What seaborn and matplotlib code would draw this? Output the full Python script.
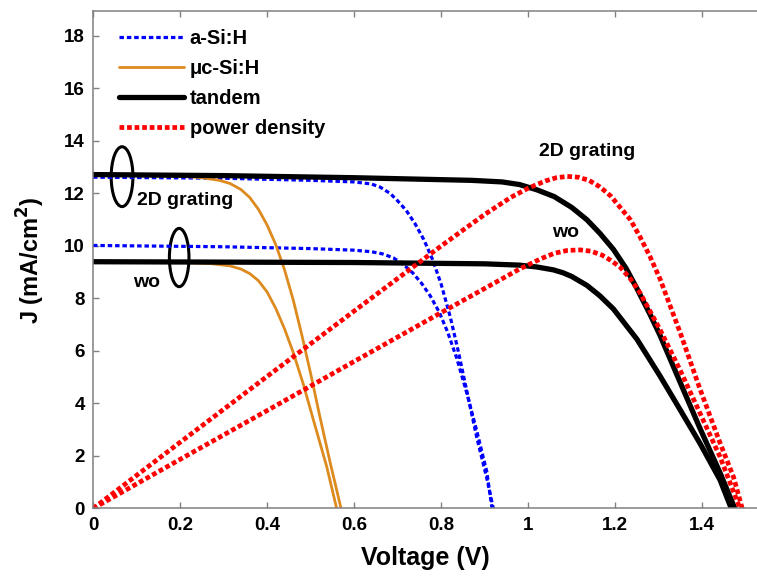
import matplotlib
matplotlib.use("Agg")

import matplotlib.pyplot as plt
from matplotlib.patches import Ellipse
import seaborn as sns


# ==================================================
# Data
# ==================================================

# a-Si:H top cell
asi_grating_v = [0, 0.3, 0.5, 0.6, 0.64, 0.66, 0.683, 0.70, 0.72, 0.74, 0.76,
                 0.78, 0.80, 0.821, 0.84, 0.86, 0.882, 0.905, 0.92]
asi_grating_j = [12.62, 12.58, 12.5, 12.44, 12.36, 12.24, 12.0, 11.72, 11.35, 10.85, 10.25,
                 9.5, 8.55, 7.3, 5.95, 4.4, 2.7, 1.15, 0.0]

asi_wo_v = [0, 0.3, 0.5, 0.6, 0.64, 0.665, 0.69, 0.713, 0.735, 0.755, 0.775,
            0.795, 0.815, 0.836, 0.859, 0.882, 0.905, 0.917]
asi_wo_j = [10.02, 9.97, 9.9, 9.84, 9.78, 9.7, 9.55, 9.3, 8.97, 8.58, 8.1,
            7.5, 6.72, 5.72, 4.4, 2.95, 1.4, 0.0]

# uc-Si:H bottom cell
ucsi_grating_v = [0, 0.2, 0.25, 0.29, 0.315, 0.34, 0.36, 0.38, 0.40, 0.42,
                  0.44, 0.46, 0.48, 0.50, 0.52, 0.545, 0.57]
ucsi_grating_j = [12.7, 12.66, 12.6, 12.5, 12.38, 12.15, 11.85, 11.4, 10.8, 10.05,
                  9.1, 7.95, 6.6, 5.15, 3.6, 1.75, 0.0]

ucsi_wo_v = [0, 0.2, 0.27, 0.315, 0.34, 0.36, 0.38, 0.40, 0.42, 0.44,
             0.46, 0.483, 0.506, 0.537, 0.56]
ucsi_wo_j = [9.4, 9.38, 9.33, 9.24, 9.12, 8.95, 8.68, 8.25, 7.62, 6.85,
             5.95, 4.75, 3.4, 1.6, 0.0]

# tandem
tandem_grating_v = [0, 0.3, 0.6, 0.87, 0.94, 0.98, 1.02, 1.06, 1.1, 1.135, 1.165,
                    1.196, 1.225, 1.25, 1.28, 1.303, 1.349, 1.395, 1.441, 1.475]
tandem_grating_j = [12.72, 12.68, 12.6, 12.5, 12.44, 12.34, 12.14, 11.88, 11.47, 11.0, 10.48,
                    9.87, 9.15, 8.38, 7.4, 6.6, 4.82, 3.05, 1.36, 0.0]

tandem_wo_v = [0, 0.6, 0.9, 0.98, 1.02, 1.058, 1.08, 1.1, 1.135, 1.165,
               1.196, 1.25, 1.303, 1.349, 1.395, 1.441, 1.467]
tandem_wo_j = [9.4, 9.37, 9.32, 9.27, 9.2, 9.09, 8.98, 8.84, 8.5, 8.1,
               7.6, 6.45, 5.05, 3.77, 2.48, 1.09, 0.0]

# power density
power_grating_v = [0, 0.2, 0.4, 0.6, 0.8, 0.9, 0.96, 1.0, 1.04, 1.065, 1.09,
                   1.115, 1.14, 1.165, 1.19, 1.21, 1.235, 1.257, 1.28, 1.303,
                   1.349, 1.395, 1.441, 1.472, 1.492]
power_grating_j = [0, 2.52, 5.03, 7.52, 10.0, 11.2, 11.85, 12.2, 12.48, 12.6, 12.65,
                   12.62, 12.5, 12.25, 11.9, 11.5, 11.0, 10.35, 9.6, 8.75,
                   6.72, 4.55, 2.5, 1.2, 0.0]

power_wo_v = [0, 0.2, 0.4, 0.6, 0.8, 0.9, 0.98, 1.03, 1.06, 1.09, 1.12,
              1.145, 1.17, 1.19, 1.211, 1.235, 1.257, 1.303, 1.349, 1.395,
              1.441, 1.487]
power_wo_j = [0, 1.87, 3.73, 5.6, 7.46, 8.38, 9.12, 9.52, 9.72, 9.83, 9.85,
              9.8, 9.65, 9.45, 9.2, 8.75, 8.22, 6.82, 5.28, 3.63,
              1.97, 0.0]

x_ticks = [0, 0.2, 0.4, 0.6, 0.8, 1.0, 1.2, 1.4]
x_tick_labels = ["0", "0.2", "0.4", "0.6", "0.8", "1", "1.2", "1.4"]
y_ticks = [0, 2, 4, 6, 8, 10, 12, 14, 16, 18]


# ==================================================
# Style
# ==================================================

sns.set_style("white")

plt.rcParams["font.family"] = ["Liberation Sans", "DejaVu Sans"]
plt.rcParams["font.weight"] = "bold"
plt.rcParams["text.color"] = "black"
plt.rcParams["axes.labelcolor"] = "black"
plt.rcParams["xtick.labelcolor"] = "black"
plt.rcParams["ytick.labelcolor"] = "black"

BLUE = "#0000ff"
ORANGE = "#dd8a1e"
BLACK = "#000000"
RED = "#ff0000"
GRAY = "#808080"


# ==================================================
# Figure
# ==================================================

fig = plt.figure(figsize=(7.57, 5.83), dpi=100)

ax = fig.add_axes([0.1229, 0.1278, 0.8771, 0.8533])


def draw(v, j, color, ls, lw, label=None):
    sns.lineplot(
        x=v,
        y=j,
        ax=ax,
        color=color,
        linestyle=ls,
        linewidth=lw,
        sort=False,
        estimator=None,
        label=label,
        legend=False
    )


blue_ls = (0, (1.4, 0.9))
red_ls = (0, (1.0, 0.6))

draw(asi_grating_v, asi_grating_j, BLUE, blue_ls, 2.3, "a-Si:H")
draw(asi_wo_v, asi_wo_j, BLUE, blue_ls, 2.3)

draw(ucsi_grating_v, ucsi_grating_j, ORANGE, "-", 2.0, "\u03bcc-Si:H")
draw(ucsi_wo_v, ucsi_wo_j, ORANGE, "-", 2.0)

draw(tandem_grating_v, tandem_grating_j, BLACK, "-", 3.8, "tandem")
draw(tandem_wo_v, tandem_wo_j, BLACK, "-", 3.8)

draw(power_grating_v, power_grating_j, RED, red_ls, 3.4, "power density")
draw(power_wo_v, power_wo_j, RED, red_ls, 3.4)


# ellipses marking the two curve groups
ax.add_patch(
    Ellipse((0.0667, 12.64), 0.05, 2.28,
            fill=False, edgecolor=BLACK, linewidth=2.2)
)

ax.add_patch(
    Ellipse((0.198, 9.56), 0.045, 2.22,
            fill=False, edgecolor=BLACK, linewidth=2.2)
)

ax.text(0.101, 11.75, "2D grating", fontsize=14, fontweight="bold",
        ha="left", va="center")
ax.text(0.092, 8.59, "wo", fontsize=14, fontweight="bold",
        ha="left", va="center")
ax.text(1.025, 13.58, "2D grating", fontsize=14, fontweight="bold",
        ha="left", va="center")
ax.text(1.055, 10.53, "wo", fontsize=14, fontweight="bold",
        ha="left", va="center")


# ==================================================
# Axes
# ==================================================

ax.set_xlim(0, 1.526)
ax.set_ylim(0, 18.95)

ax.set_xticks(x_ticks)
ax.set_xticklabels(x_tick_labels)
ax.set_yticks(y_ticks)

ax.tick_params(
    direction="in",
    length=4,
    width=1,
    color=GRAY,
    labelsize=13.5,
    top=True,
    bottom=True,
    left=True,
    right=False,
    pad=6
)

for lab in ax.get_xticklabels() + ax.get_yticklabels():
    lab.set_fontweight("bold")

for side in ["left", "top", "bottom"]:
    ax.spines[side].set_color(GRAY)
    ax.spines[side].set_linewidth(1.1)

ax.spines["right"].set_visible(False)

ax.set_xlabel("Voltage (V)", fontsize=18, fontweight="bold", labelpad=9)
ax.set_ylabel("J (mA/cm$^\\mathbf{2}$)", fontsize=17, fontweight="bold",
              labelpad=12)

ax.legend(
    loc="upper left",
    bbox_to_anchor=(0.015, 0.997),
    frameon=False,
    fontsize=14.5,
    handlelength=3.2,
    handletextpad=0.3,
    labelspacing=0.55,
    borderaxespad=0.4
)

fig.savefig("out.png", dpi=100)
